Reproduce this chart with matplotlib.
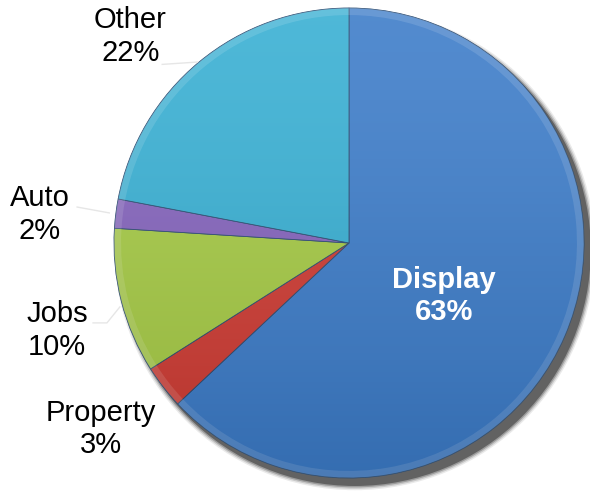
import numpy as np
import matplotlib.pyplot as plt
from matplotlib.patches import Circle, Wedge

labels = ['Display', 'Property', 'Jobs', 'Auto', 'Other']
shares = [63, 3, 10, 2, 22]
colors = ['#3c7cc9', '#cf3b33', '#a6cb45', '#8463bd', '#37afd3']

# label placement: (angle shift from slice middle in degrees, radius)
label_pos = {
    'Display': (-5.8, 0.463),
    'Property': (-0.9, 1.319),
    'Jobs': (2.3, 1.298),
    'Auto': (1.9, 1.321),
    'Other': (7.0, 1.280),
}

plt.rcParams['font.family'] = ['Liberation Sans', 'DejaVu Sans']

# pie centre and radius in pixels of the 590x496 canvas
W, H = 590, 496
cx, cy, R = 349, 243, 235

fig = plt.figure(figsize=(W / 100, H / 100), dpi=100)
ax = fig.add_axes([0, 0, 1, 1])
ax.set_aspect('equal')
ax.axis('off')

# soft drop shadow
for k, a in enumerate([0.10, 0.18, 0.3, 0.55]):
    ax.add_patch(Circle((0.025, -0.03), 1.0 + 0.022 - k * 0.006,
                        color='#333333', alpha=a, lw=0, zorder=1))

wedges, _ = ax.pie(shares, colors=colors, startangle=90, counterclock=False,
                   radius=1.0, wedgeprops=dict(edgecolor='#2a4a70', linewidth=0.6))
for w in wedges:
    w.set_zorder(2)

# bevel: light rim near the outer edge of every slice
for w in wedges:
    ax.add_patch(Wedge((0, 0), 1.0, w.theta1, w.theta2, width=0.03,
                       facecolor='white', alpha=0.13, lw=0, zorder=3))

# gentle top-to-bottom shading clipped to the disc
grad = np.linspace(1, 0, 256).reshape(-1, 1)
img = ax.imshow(grad, extent=(-1, 1, -1, 1), cmap='Greys_r', alpha=0.12,
                aspect='auto', zorder=4, vmin=0, vmax=1)
img.set_clip_path(Circle((0, 0), 1.0, transform=ax.transData))

ax.set_xlim(-cx / R, (W - cx) / R)
ax.set_ylim(-(H - cy) / R, cy / R)

# slice labels
for w, name, val in zip(wedges, labels, shares):
    shift, d = label_pos[name]
    ang = np.deg2rad((w.theta1 + w.theta2) / 2 + shift)
    x, y = d * np.cos(ang), d * np.sin(ang)
    inside = name == 'Display'
    ax.text(x, y, f'{name}\n{val}%', ha='center', va='center', fontsize=21,
            color='white' if inside else 'black',
            fontweight='bold' if inside else 'normal',
            linespacing=1.2, zorder=6)

# faint leader lines for the outer labels
leaders = {
    'Other': [(-0.795, 0.76), (-0.645, 0.77)],
    'Auto': [(-1.157, 0.153), (-1.02, 0.128)],
    'Jobs': [(-1.089, -0.340), (-1.03, -0.340), (-0.975, -0.272)],
}
for name, pts in leaders.items():
    xs, ys = zip(*pts)
    ax.plot(xs, ys, color='#e6e6e6', lw=1.0, zorder=5)

fig.savefig('out.png', dpi=100)
